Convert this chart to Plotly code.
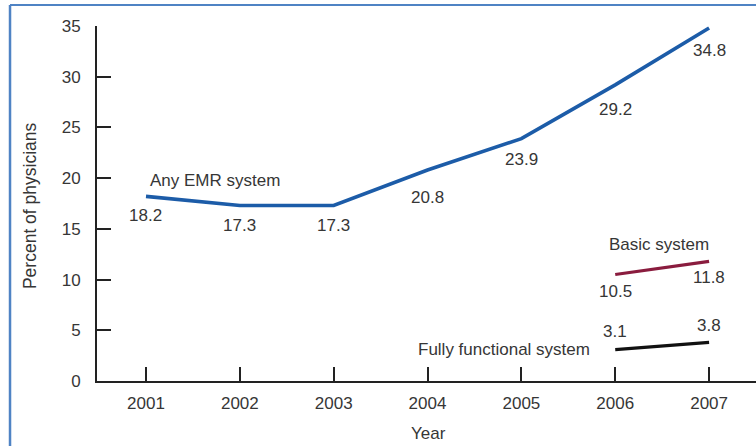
import plotly.graph_objects as go

# Percent of office-based physicians using electronic medical records
years = [2001, 2002, 2003, 2004, 2005, 2006, 2007]
any_emr = [18.2, 17.3, 17.3, 20.8, 23.9, 29.2, 34.8]

basic_years = [2006, 2007]
basic = [10.5, 11.8]

full_years = [2006, 2007]
fully_functional = [3.1, 3.8]

y_ticks = [0, 5, 10, 15, 20, 25, 30, 35]

FONT = "Liberation Sans, Arial, Helvetica, sans-serif"
TXT = "#363636"
FS = 17

fig = go.Figure()
fig.add_trace(go.Scatter(x=years, y=any_emr, mode="lines",
                         line=dict(color="#1c5ca8", width=3.6), hoverinfo="skip"))
fig.add_trace(go.Scatter(x=basic_years, y=basic, mode="lines",
                         line=dict(color="#8a1c3e", width=3.2), hoverinfo="skip"))
fig.add_trace(go.Scatter(x=full_years, y=fully_functional, mode="lines",
                         line=dict(color="#111111", width=3.2), hoverinfo="skip"))

annotations = []
# value labels, offset from each point in pixels
emr_shift = [-19, -20, -20, -27, -21, -25, -22]
for x, v, s in zip(years, any_emr, emr_shift):
    annotations.append(dict(x=x, y=v, text=f"{v}", yshift=s))
for x, v, s in zip(basic_years, basic, [-17, -16]):
    annotations.append(dict(x=x, y=v, text=f"{v}", yshift=s))
for x, v, s in zip(full_years, fully_functional, [18, 17]):
    annotations.append(dict(x=x, y=v, text=f"{v}", yshift=s))

# series names
annotations += [
    dict(x=2001.74, y=19.8, text="Any EMR system"),
    dict(x=2006.47, y=13.5, text="Basic system"),
    dict(x=2004.81, y=3.06, text="Fully functional system"),
]
for a in annotations:
    a.update(showarrow=False, xref="x", yref="y", xanchor="center", yanchor="middle",
             font=dict(family=FONT, size=FS, color=TXT))

# axis titles
annotations += [
    dict(x=-0.102, y=0.495, xref="paper", yref="paper", text="Percent of physicians",
         textangle=-90, showarrow=False, xanchor="center", yanchor="middle",
         font=dict(family=FONT, size=FS + 0.5, color=TXT)),
    dict(x=0.503, y=-0.1465, xref="paper", yref="paper", text="Year",
         showarrow=False, xanchor="center", yanchor="middle",
         font=dict(family=FONT, size=FS, color=TXT)),
]

fig.update_layout(
    width=756, height=446,
    margin=dict(l=97, r=0, t=26, b=65),
    paper_bgcolor="white", plot_bgcolor="white",
    showlegend=False,
    annotations=annotations,
    shapes=[
        dict(type="line", xref="paper", yref="paper", x0=-0.132, x1=1.01,
             y0=1.059, y1=1.059, line=dict(color="#4f83c4", width=2)),
        dict(type="line", xref="paper", yref="paper", x0=-0.132, x1=-0.132,
             y0=1.059, y1=-0.2, line=dict(color="#4f83c4", width=2.5)),
    ],
)
fig.update_xaxes(
    range=[2000.478, 2007.5], tickmode="array", tickvals=years,
    ticks="inside", ticklen=14, tickwidth=2, tickcolor="#222",
    showline=True, linewidth=2, linecolor="#222",
    showgrid=False, zeroline=False, ticklabelstandoff=6,
    tickfont=dict(family=FONT, size=FS, color=TXT),
)
fig.update_yaxes(
    range=[0, 35], tickmode="array", tickvals=y_ticks,
    ticks="inside", ticklen=14, tickwidth=2, tickcolor="#222",
    showline=True, linewidth=2, linecolor="#222",
    showgrid=False, zeroline=False, ticklabelstandoff=11,
    tickfont=dict(family=FONT, size=FS, color=TXT),
)

fig.write_html("out.html")
